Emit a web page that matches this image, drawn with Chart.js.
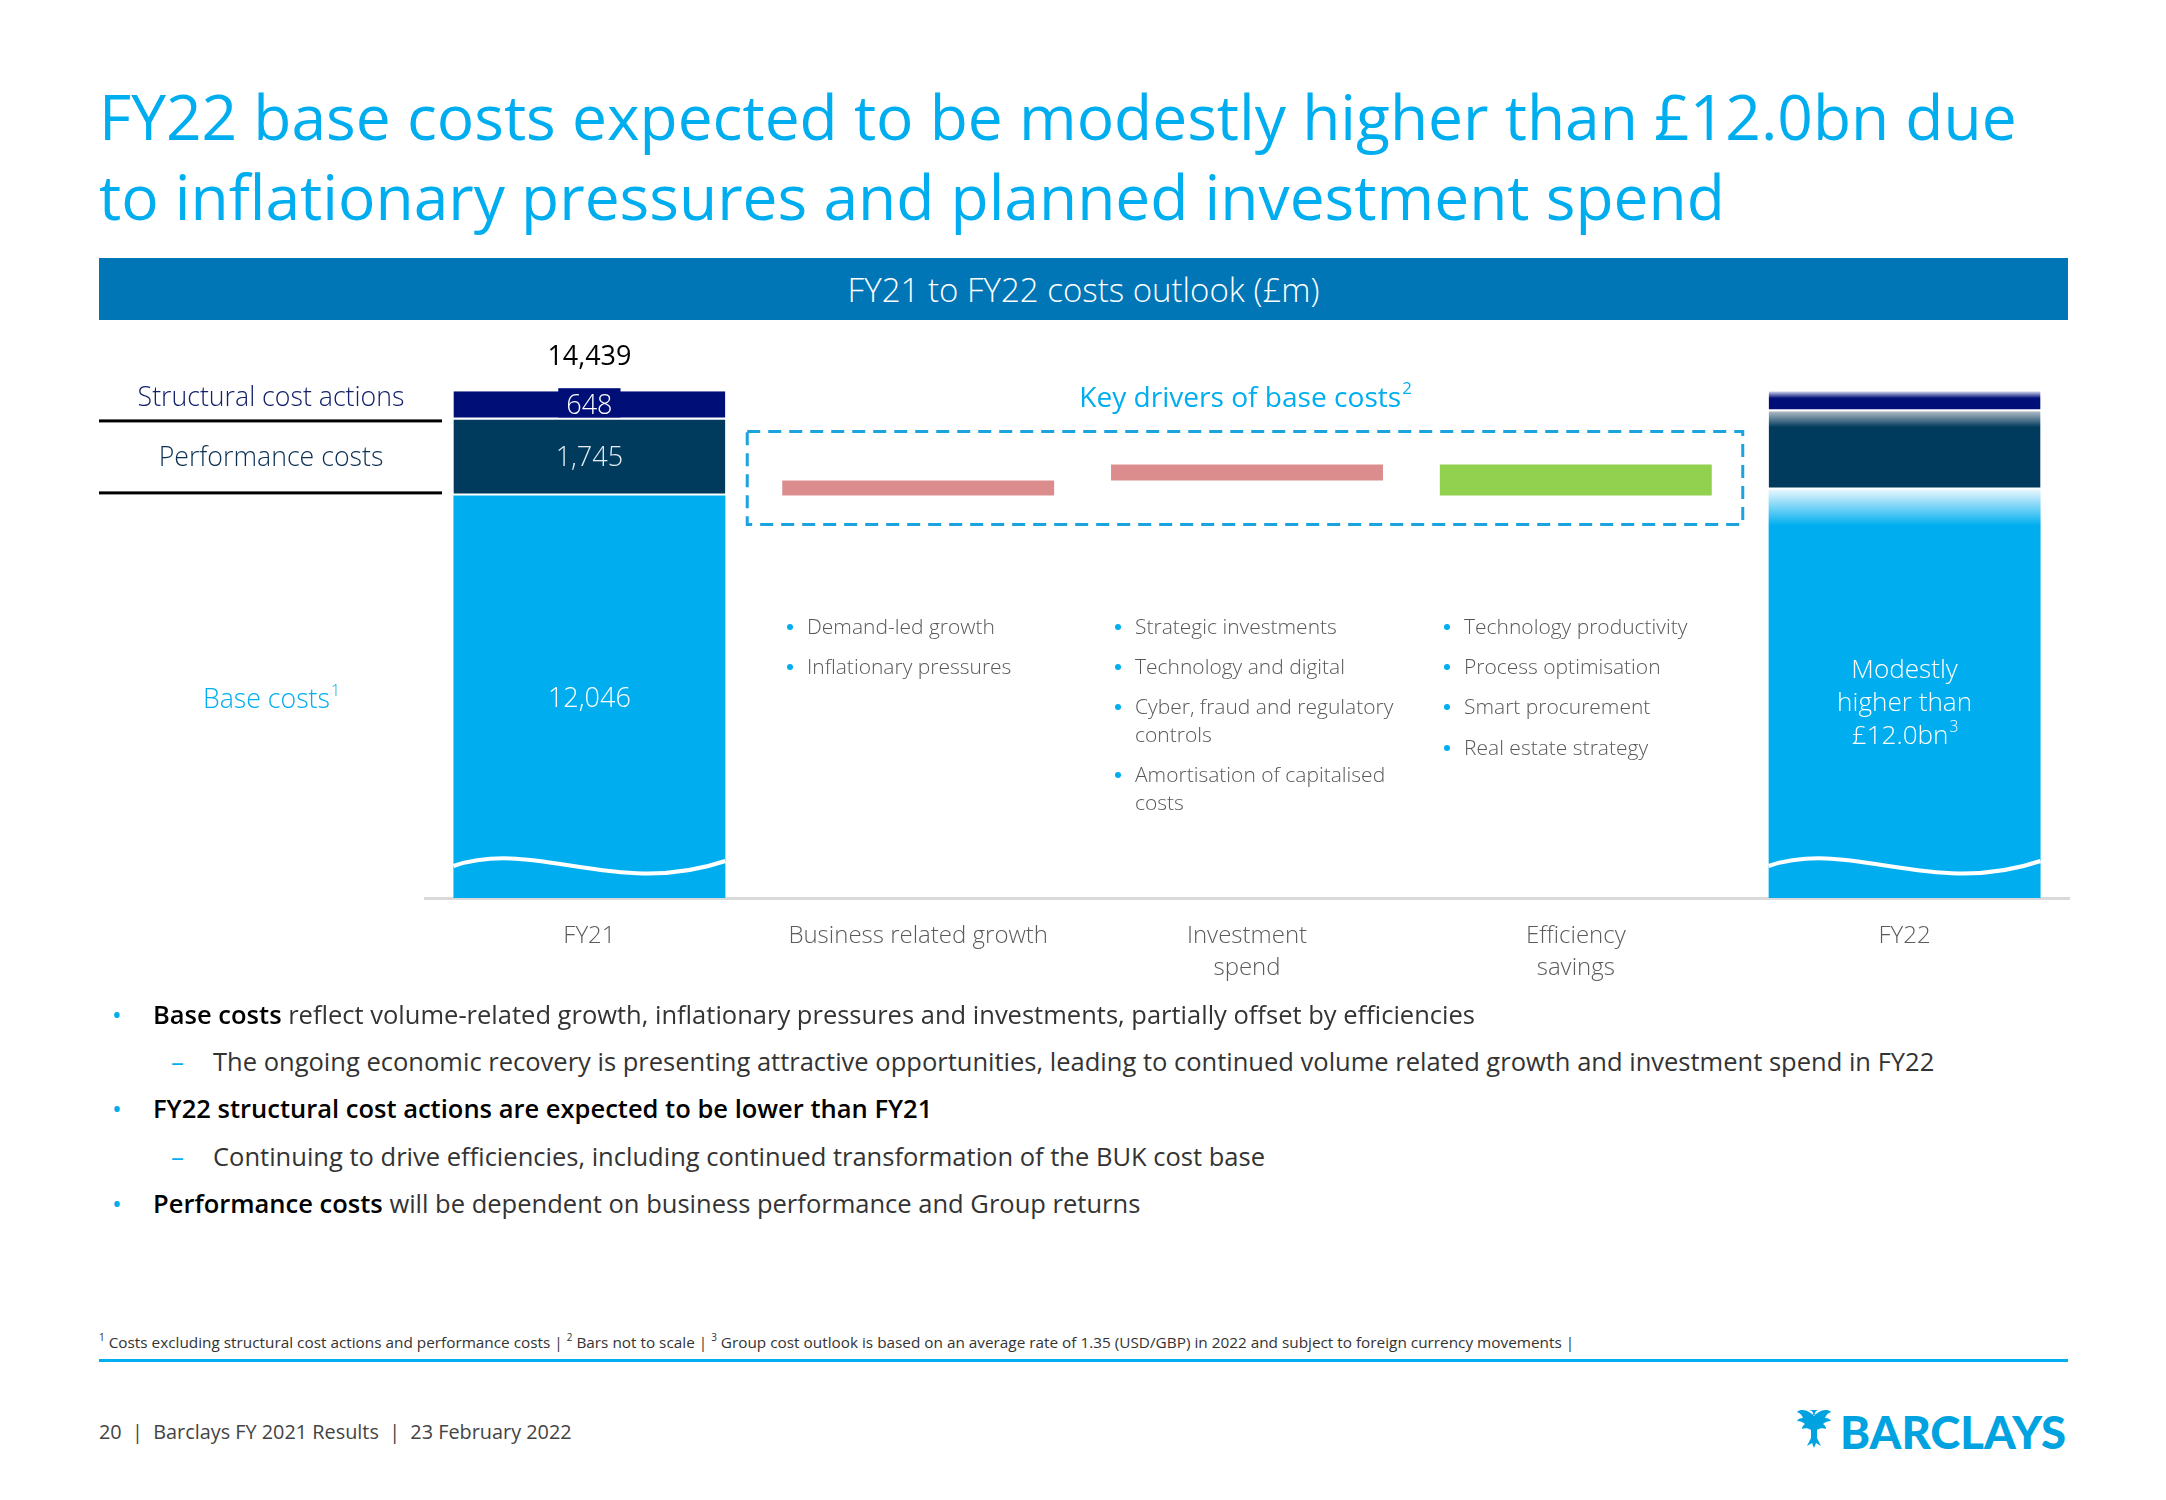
<!DOCTYPE html>
<html>
<head>
<meta charset="utf-8">
<title>FY21 to FY22 costs outlook</title>
<script src="https://cdn.jsdelivr.net/npm/chart.js@4.4.1/dist/chart.umd.min.js"></script>
<script>
// chart data (£m)
const categories = ['FY21', 'Business related growth', ['Investment', 'spend'], ['Efficiency', 'savings'], 'FY22'];
const baseCosts = [12046, null, null, null, 12180];
const performanceCosts = [1745, null, null, null, 1800];
const structuralCosts = [648, null, null, null, 460];
// key drivers are floating bars, not to scale
const driverRanges = [null, [12046, 12390], [12390, 12756], [12756, 12046], null];
const fy21Total = 14439;
const fy22Text = ['Modestly', 'higher than', '£12.0bn'];
</script>
<style>
  body { margin: 0; width: 2166px; height: 1500px; background: #fff; position: relative; overflow: hidden;
         font-family: "Open Sans", "Noto Sans", sans-serif; }
  .abs { position: absolute; white-space: nowrap; }
  .mid { transform: translateY(-50%); }
  .title { color: #00aeef; font-size: 64px; font-weight: 400; left: 99px; }
  .band { left: 99px; top: 258px; width: 1969px; height: 62px; background: #0076b6; }
  .band span { position: absolute; left: 50%; top: 50%; transform: translate(-50%, -50%); color: #fff; font-size: 30px; font-weight: 300; white-space: nowrap; }
  .drv { font-size: 21px; color: #585858; font-weight: 300; line-height: 28px; }
  .drv .d { position: absolute; left: -20px; top: 12px; width: 6px; height: 6px; border-radius: 50%; background: #00aeef; }
  .bl { left: 153px; color: #333; font-size: 26px; }
  .bl b { color: #000; font-weight: 600; }
  .dot { left: 112px; color: #00aeef; font-size: 26px; }
  .dash { left: 171px; color: #00aeef; font-size: 26px; }
  .sub { left: 213px; color: #333; font-size: 26px; }
  .fn { left: 99px; top: 1341px; font-size: 15px; color: #333; }
  .fn sup { font-size: 0.65em; }
  .rule { left: 99px; top: 1359px; width: 1969px; height: 3px; background: #00aeef; }
  .foot { left: 99px; top: 1431px; font-size: 20px; color: #444; white-space: pre; }
  #chartBox { position: absolute; left: 99px; top: 330px; width: 1971px; height: 680px; }
</style>
</head>
<body>

<div class="abs mid title" id="t1" style="top:115px">FY22 base costs expected to be modestly higher than £12.0bn due</div>
<div class="abs mid title" id="t2" style="top:195px">to inflationary pressures and planned investment spend</div>

<div class="abs band"><span id="bandText">FY21 to FY22 costs outlook (£m)</span></div>

<div id="chartBox"><canvas id="costChart"></canvas></div>

<!-- key driver notes -->
<div class="abs drv" style="left:807px;top:612px"><span class="d"></span>Demand-led growth</div>
<div class="abs drv" style="left:807px;top:652px"><span class="d"></span>Inflationary pressures</div>
<div class="abs drv" style="left:1135px;top:612px"><span class="d"></span>Strategic investments</div>
<div class="abs drv" style="left:1135px;top:652px"><span class="d"></span>Technology and digital</div>
<div class="abs drv" style="left:1135px;top:692px"><span class="d"></span>Cyber, fraud and regulatory<br>controls</div>
<div class="abs drv" style="left:1135px;top:760px"><span class="d"></span>Amortisation of capitalised<br>costs</div>
<div class="abs drv" style="left:1464px;top:612px"><span class="d"></span>Technology productivity</div>
<div class="abs drv" style="left:1464px;top:652px"><span class="d"></span>Process optimisation</div>
<div class="abs drv" style="left:1464px;top:692px"><span class="d"></span>Smart procurement</div>
<div class="abs drv" style="left:1464px;top:733px"><span class="d"></span>Real estate strategy</div>

<!-- commentary -->
<div class="abs mid dot" style="top:1014px">•</div>
<div class="abs mid bl" style="top:1014px"><b>Base costs</b> reflect volume-related growth, inflationary pressures and investments, partially offset by efficiencies</div>
<div class="abs mid dash" style="top:1061px">–</div>
<div class="abs mid sub" id="sub1" style="top:1061px">The ongoing economic recovery is presenting attractive opportunities, leading to continued volume related growth and investment spend in FY22</div>
<div class="abs mid dot" style="top:1108px">•</div>
<div class="abs mid bl" style="top:1108px"><b>FY22 structural cost actions are expected to be lower than FY21</b></div>
<div class="abs mid dash" style="top:1156px">–</div>
<div class="abs mid sub" style="top:1156px">Continuing to drive efficiencies, including continued transformation of the BUK cost base</div>
<div class="abs mid dot" style="top:1203px">•</div>
<div class="abs mid bl" style="top:1203px"><b>Performance costs</b> will be dependent on business performance and Group returns</div>

<div class="abs mid fn" id="fn"><sup>1</sup> Costs excluding structural cost actions and performance costs | <sup>2</sup> Bars not to scale | <sup>3</sup> Group cost outlook is based on an average rate of 1.35 (USD/GBP) in 2022 and subject to foreign currency movements |</div>
<div class="abs rule"></div>
<div class="abs mid foot" id="foot">20  |  Barclays FY 2021 Results  |  23 February 2022</div>

<svg class="abs" style="left:1785px;top:1406px" width="48" height="48" viewBox="0 0 46 48">
  <path fill="#00a3e0" d="M23 4c3 0 5 3 4 6l6-4c3-2 9-3 12 0c-3 1-5 3-6 6c3 0 5 1 6 3c-3 0-6 1-8 3c2 1 3 3 3 5c-3-1-6-1-9 1l0 8l4 8l-5-3l-2 5l-2-5l-5 3l4-8l0-8c-3-2-6-2-9-1c0-2 1-4 3-5c-2-2-5-3-8-3c1-2 3-3 6-3c-1-3-3-5-6-6c3-3 9-2 12 0l6 4c-1-3 1-6 4-6z"/>
</svg>
<div class="abs mid" id="logo" style="left:1840px;top:1431px;color:#00a3e0;font-family:Lato, sans-serif;font-weight:900;font-size:44px;">BARCLAYS</div>

<script>
// size a few text lines to the widths they take on the slide
function fitTo(el, target) {
  const w = el.getBoundingClientRect().width;
  const fs = parseFloat(getComputedStyle(el).fontSize);
  return fs * target / w;
}
const t1 = document.getElementById('t1');
const titleSize = fitTo(t1, 1918);
t1.style.fontSize = titleSize + 'px';
document.getElementById('t2').style.fontSize = titleSize + 'px';
const band = document.getElementById('bandText');
band.style.fontSize = fitTo(band, 472) + 'px';
const bodySize = fitTo(document.getElementById('sub1'), 1722);
document.querySelectorAll('.bl, .sub').forEach(el => el.style.fontSize = bodySize + 'px');
const fn = document.getElementById('fn');
fn.style.fontSize = fitTo(fn, 1476) + 'px';
const foot = document.getElementById('foot');
foot.style.fontSize = fitTo(foot, 473) + 'px';
const logo = document.getElementById('logo');
logo.style.fontSize = fitTo(logo, 226) + 'px';

const FONT = '"Open Sans", "Noto Sans", sans-serif';

// font px so that text fills a given width
function fitFont(ctx, text, width, weight) {
  ctx.font = weight + ' 100px ' + FONT;
  return 100 * width / ctx.measureText(text).width;
}

function textSup(ctx, text, sup, x, y, size, weight, color) {
  ctx.fillStyle = color;
  ctx.font = weight + ' ' + size + 'px ' + FONT;
  const w1 = ctx.measureText(text).width;
  ctx.font = weight + ' ' + (size * 0.6) + 'px ' + FONT;
  const w2 = sup ? ctx.measureText(sup).width : 0;
  const start = x - (w1 + w2) / 2;
  ctx.textAlign = 'left';
  ctx.font = weight + ' ' + size + 'px ' + FONT;
  ctx.fillText(text, start, y);
  if (sup) {
    ctx.font = weight + ' ' + (size * 0.6) + 'px ' + FONT;
    ctx.fillText(sup, start + w1 + 1, y - size * 0.35);
  }
}

function fy22Fill(solid, light, fadePx, topValue) {
  return (c) => {
    const chart = c.chart;
    if (c.dataIndex !== 4 || !chart.chartArea) return solid;
    const top = chart.scales.y.getPixelForValue(topValue);
    const g = chart.ctx.createLinearGradient(0, top, 0, top + fadePx);
    g.addColorStop(0, light);
    g.addColorStop(1, solid);
    return g;
  };
}

const slideMarks = {
  id: 'slideMarks',
  afterDatasetsDraw(chart) {
    const { ctx, chartArea, scales: { y } } = chart;
    const baseMeta = chart.getDatasetMeta(0);
    const driverMeta = chart.getDatasetMeta(3);
    ctx.save();
    ctx.textBaseline = 'middle';

    // wavy break line on the two full bars
    [0, 4].forEach(i => {
      const el = baseMeta.data[i];
      const l = el.x - el.width / 2, w = el.width, b = chartArea.bottom;
      ctx.beginPath();
      ctx.moveTo(l, b - 32);
      ctx.bezierCurveTo(l + w * 0.3, b - 60, l + w * 0.6, b, l + w, b - 37);
      ctx.lineWidth = 4;
      ctx.strokeStyle = '#fff';
      ctx.stroke();
    });

    // FY21 segment geometry
    const fy = baseMeta.data[0];
    const topPx = y.getPixelForValue(fy21Total);
    const perfTopPx = y.getPixelForValue(baseCosts[0] + performanceCosts[0]);
    const baseTopPx = y.getPixelForValue(baseCosts[0]);
    const baseMid = (baseTopPx + chartArea.bottom) / 2;

    // left-hand row labels and rules
    const lx = chartArea.left - 154;
    ctx.fillStyle = '#000';
    ctx.fillRect(0, perfTopPx, chartArea.left + 17, 3);
    ctx.fillRect(0, baseTopPx - 4, chartArea.left + 17, 3);
    ctx.textAlign = 'center';
    let s = fitFont(ctx, 'Structural cost actions', 267, '300');
    ctx.font = '300 ' + s + 'px ' + FONT;
    ctx.fillStyle = '#13216b';
    ctx.fillText('Structural cost actions', lx, (topPx + perfTopPx) / 2 - 7);
    ctx.fillStyle = '#0d3154';
    ctx.fillText('Performance costs', lx, (perfTopPx + baseTopPx) / 2 + 1);
    textSup(ctx, 'Base costs', '1', lx, baseMid + 4, s, '300', '#00aeef');

    // values on the FY21 bar
    ctx.textAlign = 'center';
    const vs = fitFont(ctx, '12,046', 83, '300');
    ctx.font = '300 ' + vs + 'px ' + FONT;
    const w648 = ctx.measureText('648').width + 16;
    ctx.fillStyle = '#000f78';
    ctx.fillRect(fy.x - w648 / 2, topPx - 3, w648, perfTopPx - topPx + 1);
    ctx.fillStyle = '#fff';
    ctx.fillText(structuralCosts[0].toLocaleString('en-GB'), fy.x, (topPx + perfTopPx) / 2 + 1);
    ctx.fillStyle = '#e4edf3';
    ctx.fillText(performanceCosts[0].toLocaleString('en-GB'), fy.x, (perfTopPx + baseTopPx) / 2 + 1);
    ctx.fillStyle = '#fff';
    ctx.fillText(baseCosts[0].toLocaleString('en-GB'), fy.x, baseMid + 3);
    ctx.fillStyle = '#000';
    ctx.font = '400 ' + fitFont(ctx, '14,439', 84, '400') + 'px ' + FONT;
    ctx.fillText(fy21Total.toLocaleString('en-GB'), fy.x, topPx - 34);

    // FY22 note
    const f22 = baseMeta.data[4];
    const f22Mid = (y.getPixelForValue(baseCosts[4]) + chartArea.bottom) / 2;
    const ns = fitFont(ctx, fy22Text[1], 135, '300');
    ctx.font = '300 ' + ns + 'px ' + FONT;
    ctx.fillStyle = '#fff';
    ctx.fillText(fy22Text[0], f22.x, f22Mid - 23);
    ctx.fillText(fy22Text[1], f22.x, f22Mid + 10);
    textSup(ctx, fy22Text[2], '3', f22.x, f22Mid + 43, ns, '300', '#fff');

    // dashed frame round the key drivers
    const r1 = driverMeta.data[1], r2 = driverMeta.data[2], g = driverMeta.data[3];
    const bx0 = r1.x - r1.width / 2 - 35, bx1 = g.x + g.width / 2 + 31;
    const by0 = r2.y - 33, by1 = r1.base + 29;
    ctx.setLineDash([13, 8]);
    ctx.lineWidth = 3;
    ctx.strokeStyle = '#1aa3dd';
    ctx.strokeRect(bx0, by0, bx1 - bx0, by1 - by0);
    ctx.setLineDash([]);
    const ks = fitFont(ctx, 'Key drivers of base costs', 322, '400');
    textSup(ctx, 'Key drivers of base costs', '2', (bx0 + bx1) / 2, by0 - 32, ks, '400', '#00aeef');

    ctx.restore();
  }
};

const canvasElem = document.getElementById('costChart');
const fy22BaseTop = baseCosts[4];
const fy22PerfTop = baseCosts[4] + performanceCosts[4];
const fy22Top = fy22PerfTop + structuralCosts[4];
const segBorder = { top: 0, left: 0, right: 0, bottom: 2 };

new Chart(canvasElem, {
  type: 'bar',
  data: {
    labels: categories,
    datasets: [
      {
        label: 'Base costs',
        data: baseCosts,
        backgroundColor: fy22Fill('#00aeef', '#e8f7fd', 36, fy22BaseTop)
      },
      {
        label: 'Performance costs',
        data: performanceCosts,
        backgroundColor: fy22Fill('#003a5d', '#b3bec7', 16, fy22PerfTop),
        borderColor: '#fff',
        borderWidth: segBorder,
        borderSkipped: false
      },
      {
        label: 'Structural cost actions',
        data: structuralCosts,
        backgroundColor: fy22Fill('#000f78', '#d9dcef', 7, fy22Top),
        borderColor: '#fff',
        borderWidth: segBorder,
        borderSkipped: false
      },
      {
        label: 'Key drivers',
        data: driverRanges,
        backgroundColor: ['#db8d8d', '#db8d8d', '#db8d8d', '#92d050', '#92d050']
      }
    ]
  },
  options: {
    responsive: true,
    maintainAspectRatio: false,
    animation: false,
    layout: { padding: { left: 326, right: 1, top: 15, bottom: 0 } },
    datasets: { bar: { categoryPercentage: 1, barPercentage: 0.827 } },
    plugins: { legend: { display: false }, tooltip: { enabled: false } },
    scales: {
      x: {
        stacked: true,
        grid: { display: false },
        border: { display: true, color: '#d9d9d9', width: 3 },
        ticks: {
          color: '#5b5b5b',
          font: { family: FONT, size: 24, weight: '300', lineHeight: 1.35 },
          padding: 14,
          maxRotation: 0,
          autoSkip: false
        },
        afterFit(scale) { scale.height = 112; }
      },
      y: { stacked: true, display: false, min: 2800, max: 15500 }
    }
  },
  plugins: [slideMarks]
});
</script>
</body>
</html>
